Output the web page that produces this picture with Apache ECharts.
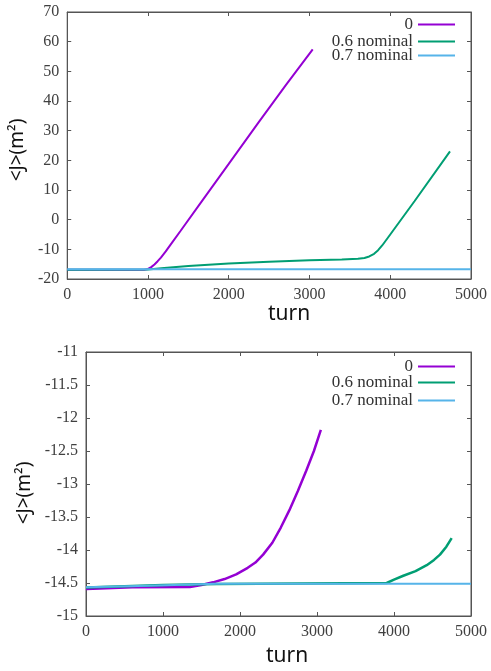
<!DOCTYPE html>
<html>
<head>
<meta charset="utf-8">
<script src="https://cdn.jsdelivr.net/npm/echarts@6/dist/echarts.min.js"></script>
<style>
  html, body { margin: 0; padding: 0; background: #fff; }
  #chart { width: 491px; height: 671px; }
</style>
</head>
<body>
<div id="chart"></div>
<script>
// series labels (gnuplot key)
const seriesNames = ['0', '0.6 nominal', '0.7 nominal'];
const seriesColors = ['#9400d3', '#009e73', '#56b4e9'];

// top panel: <J> vs turn, [turn, value]
const topZero = [[0, -16.9], [500, -16.9], [950, -16.9], [1000, -16.6], [1040, -16.0], [1080, -15.1], [1120, -14.0], [1160, -12.8], [1220, -10.7], [1280, -8.4], [1400, -3.9], [1650, 5.6], [2000, 18.8], [2365, 32.6], [2700, 45.1], [3040, 57.4]];
const topSix = [[0, -16.9], [1000, -16.8], [1200, -16.3], [1500, -15.6], [2000, -14.8], [2500, -14.2], [3000, -13.7], [3400, -13.4], [3600, -13.2], [3680, -12.9], [3740, -12.4], [3800, -11.5], [3850, -10.3], [3900, -8.7], [4000, -5.0], [4300, 6.2], [4740, 23.0]];
const topSeven = [[0, -16.7], [5000, -16.7]];

// bottom panel: zoomed in around -14.5
const botZero = [[0, -14.59], [180, -14.585], [600, -14.565], [1350, -14.56], [1500, -14.53], [1650, -14.49], [1800, -14.44], [1950, -14.37], [2100, -14.27], [2200, -14.19], [2300, -14.07], [2420, -13.89], [2530, -13.66], [2640, -13.4], [2750, -13.11], [2860, -12.8], [2960, -12.5], [3050, -12.18]];
const botSix = [[0, -14.57], [1000, -14.53], [1700, -14.515], [3905, -14.5], [4000, -14.45], [4121, -14.39], [4280, -14.32], [4425, -14.23], [4520, -14.15], [4597, -14.07], [4680, -13.95], [4749, -13.82]];
const botSeven = [[0, -14.565], [800, -14.54], [1700, -14.51], [5000, -14.51]];

const frameColor = '#555';
const labelColor = '#404040';
const tickFont = 'Liberation Serif';

function makeX(gridIndex, main, nameGap, shift) {
    return {
        type: 'value', gridIndex, min: 0, max: 5000, interval: 1000,
        position: main ? 'bottom' : 'top',
        name: main ? 'turn' : '',
        nameLocation: 'middle', nameGap,
        nameTextStyle: { fontFamily: 'Noto Sans', fontSize: 21, color: '#111', padding: [0, 0, 0, shift] },
        axisLine: { show: true, onZero: false, lineStyle: { color: frameColor, width: 1 } },
        axisTick: { show: true, inside: true, length: 4, lineStyle: { color: frameColor } },
        axisLabel: { show: main, margin: 8, color: labelColor, fontFamily: tickFont, fontSize: 16, formatter: v => String(v) },
        splitLine: { show: false }
    };
}

function makeY(gridIndex, main, min, max, interval, nameGap, shift) {
    return {
        type: 'value', gridIndex, min, max, interval,
        position: main ? 'left' : 'right',
        name: main ? '<J>(m²)' : '',
        nameLocation: 'middle', nameGap,
        nameTextStyle: { fontFamily: 'Noto Sans', fontSize: 19, color: '#111', padding: [0, shift, 0, 0] },
        axisLine: { show: true, onZero: false, lineStyle: { color: frameColor, width: 1 } },
        axisTick: { show: true, inside: true, length: 4, lineStyle: { color: frameColor } },
        axisLabel: { show: main, margin: 8, color: labelColor, fontFamily: tickFont, fontSize: 16, formatter: v => String(v) },
        splitLine: { show: false }
    };
}

function makeLine(name, data, color, axisIndex, width) {
    return {
        type: 'line', name, data, xAxisIndex: axisIndex, yAxisIndex: axisIndex,
        showSymbol: false, smooth: false,
        lineStyle: { color, width }, itemStyle: { color }
    };
}

function makeKey(name, top) {
    return {
        data: [name], right: 36, top, padding: 0, align: 'right',
        icon: 'rect', itemWidth: 37, itemHeight: 2,
        selectedMode: false,
        textStyle: { fontFamily: tickFont, fontSize: 17, color: '#333' }
    };
}

const option = {
    animation: false,
    grid: [
        { left: 66, top: 12, width: 405, height: 267, show: true, borderColor: frameColor, borderWidth: 1 },
        { left: 86, top: 352, width: 385, height: 264, show: true, borderColor: frameColor, borderWidth: 1 }
    ],
    xAxis: [makeX(0, true, 24, 40), makeX(1, true, 30, 17), makeX(0, false, 0, 0), makeX(1, false, 0, 0)],
    yAxis: [makeY(0, true, -20, 70, 10, 34, 9), makeY(1, true, -15, -11, 0.5, 51, 18), makeY(0, false, -20, 70, 10, 0, 0), makeY(1, false, -15, -11, 0.5, 0, 0)],
    legend: [
        makeKey(seriesNames[0], 16), makeKey(seriesNames[1], 33), makeKey(seriesNames[2], 47),
        makeKey(seriesNames[0], 358), makeKey(seriesNames[1], 374), makeKey(seriesNames[2], 392)
    ],
    series: [
        makeLine(seriesNames[0], topZero, seriesColors[0], 0, 2),
        makeLine(seriesNames[1], topSix, seriesColors[1], 0, 2),
        makeLine(seriesNames[2], topSeven, seriesColors[2], 0, 2),
        makeLine(seriesNames[0], botZero, seriesColors[0], 1, 2.5),
        makeLine(seriesNames[1], botSix, seriesColors[1], 1, 2.5),
        makeLine(seriesNames[2], botSeven, seriesColors[2], 1, 2)
    ]
};

const chart = echarts.init(document.getElementById('chart'));
chart.setOption(option);
</script>
</body>
</html>
